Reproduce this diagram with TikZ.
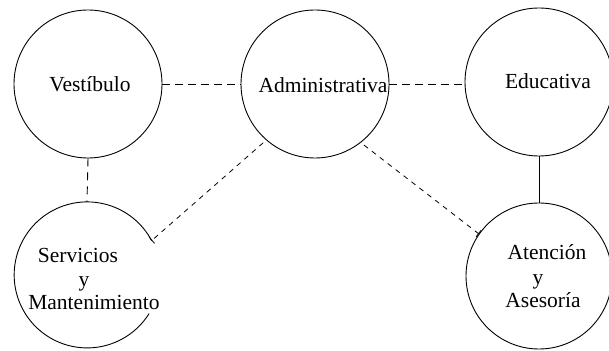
\documentclass[tikz,border=0pt]{standalone}
\usepackage{fontspec}
\setmainfont{Liberation Serif}
\usetikzlibrary{arrows.meta}
\begin{document}
\begin{tikzpicture}[x=1pt,y=1pt,
  area/.style={circle, draw, line width=0.9pt, minimum size=148pt, inner sep=0pt},
  openarea/.style={circle, draw=none, minimum size=146pt, inner sep=0pt},
  lbl/.style={anchor=base, inner sep=0pt, font=\fontsize{21.5}{24}\selectfont},
  longdash/.style={line width=0.9pt, dash pattern=on 8pt off 5pt},
  shortdash/.style={line width=0.8pt, dash pattern=on 5pt off 5pt, shorten <=4pt},
  tick/.style={-{Bar[width=8pt,line width=0.8pt]}}
]
\useasboundingbox (0,0) rectangle (609,350);
\fill[white] (0,0) rectangle (609,350);
% areas
\node[area] (V) at (88,266) {};
\node[area] (A) at (315,266) {};
\node[area] (E) at (539,268) {};
\node[openarea] (S) at (87,75) {};
\node[area, minimum size=146pt] (At) at (539,74) {};
\draw[line width=0.9pt] (S.28) arc[start angle=28, end angle=328, radius=73pt];
% labels
\node[lbl] (tV) at (90,258) {Vestíbulo};
\node[lbl] (tA) at (323,257) {Administrativa};
\node[lbl] (tE) at (548,261) {Educativa};
\node[lbl] (tS1) at (78,87) {Servicios};
\node[lbl] (tS2) at (84,63) {y};
\node[lbl] (tS3) at (94,40) {Mantenimiento};
\node[lbl] (tAt1) at (547,90) {Atención};
\node[lbl] (tAt2) at (538,65) {y};
\node[lbl] (tAt3) at (543,42) {Asesoría};
% connectors
\draw[longdash] (V.east) -- (V.east -| A.west);
\draw[longdash] (A.east) -- (A.east -| E.west);
\draw[line width=0.9pt, dash pattern=on 8pt off 6pt] (V.south) -- (S.north);
\draw[line width=0.9pt] (E.south) -- (At.north);
\draw[shortdash, tick] (A.229) -- (S.28);
\draw[shortdash, tick] (A.308) -- (At.145);
\end{tikzpicture}
\end{document}
